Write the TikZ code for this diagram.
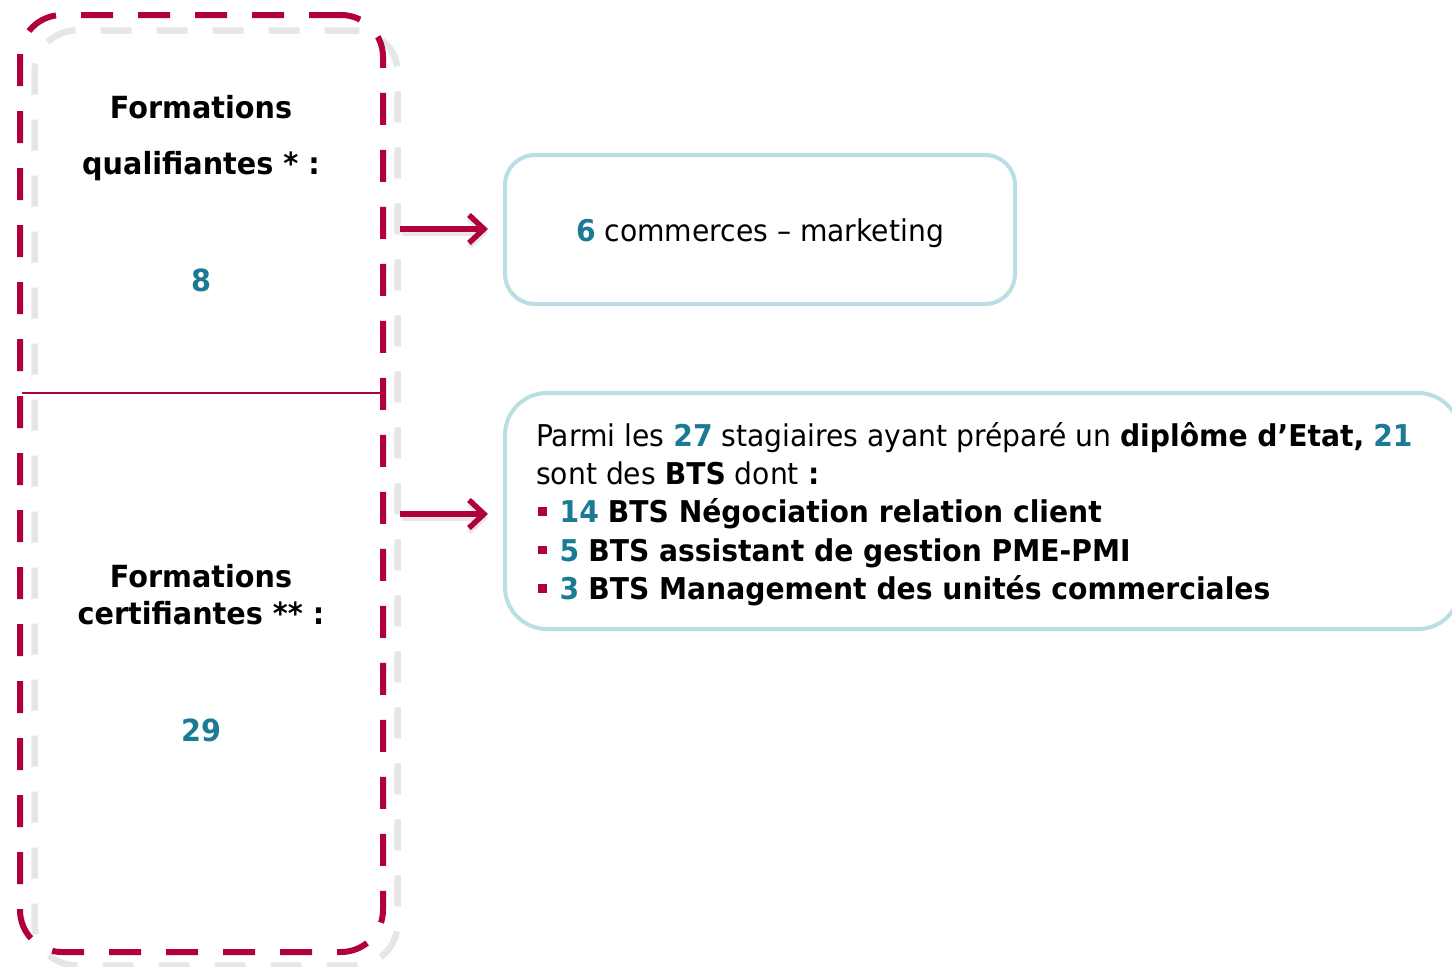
\documentclass[tikz,border=0pt]{standalone}
\usepackage{fontspec}
\setmainfont{DejaVu Sans}[FakeStretch=0.94]
\usetikzlibrary{arrows.meta}
\definecolor{crim}{HTML}{B0003E}
\definecolor{teal2}{HTML}{1B7B95}
\definecolor{lteal}{HTML}{B9DFE4}
\definecolor{shad}{HTML}{E6E6E6}
\tikzset{
  redbox/.style={draw=crim, line width=6pt, dash pattern=on 32pt off 25pt, rounded corners=42pt, minimum width=363pt, minimum height=937pt, inner sep=0pt},
  graybox/.style={draw=shad, line width=6.5pt, dash pattern=on 31pt off 25pt, rounded corners=42pt, minimum width=363pt, minimum height=935pt, inner sep=0pt},
  tealbox/.style={draw=lteal, line width=4pt, inner sep=0pt},
  lbl/.style={font=\bfseries\fontsize{30.5}{36}\selectfont, inner sep=0pt, anchor=base},
  num/.style={font=\bfseries\fontsize{30.5}{36}\selectfont, text=teal2, inner sep=0pt, anchor=base},
  rtxt/.style={font=\fontsize{30}{36}\selectfont, inner sep=0pt, anchor=base west},
  arr/.style={draw=crim, line width=5.5pt, -{Straight Barb[length=15pt, width=28pt, line width=5.5pt]}},
  arrsh/.style={draw=black!20, line width=5.5pt, opacity=0.45, -{Straight Barb[length=15pt, width=28pt, line width=5.5pt]}},
}
\newcommand{\tn}[1]{\textcolor{teal2}{\textbf{#1}}}
\newcommand{\rbul}{\textcolor{crim}{\rule[7pt]{8.5pt}{8.5pt}}\hspace{13pt}}
\begin{document}
\begin{tikzpicture}[x=1pt,y=-1pt]
\useasboundingbox (0,0) rectangle (1452,967);
% left boxes
\node[graybox] (shadowbox) at (216,498) {};
\node[redbox] (leftbox) at (201.5,483.5) {};
\coordinate (hl) at (22,393);
\coordinate (hr) at (381,393);
\draw[crim, line width=2.5pt] (hl) -- (hr);
% left labels
\node[lbl] (f1) at (201,118) {Formations};
\node[lbl] (q1) at (201,174) {qualifiantes * :};
\node[num] (n8) at (201,291) {8};
\node[lbl] (f2) at (201,587) {Formations};
\node[lbl] (c2) at (201,624) {certifiantes ** :};
\node[num] (n29) at (201,741) {29};
% right boxes
\node[tealbox, rounded corners=30pt, minimum width=510pt, minimum height=149pt] (box1) at (760,229.5) {};
\node[font=\fontsize{30}{36}\selectfont, inner sep=0pt, anchor=base] (t1) at (760,241) {\tn{6} commerces – marketing};
\node[tealbox, rounded corners=42pt, minimum width=955pt, minimum height=236pt] (box2) at (982.5,511) {};
\node[rtxt] (l1) at (536,446) {Parmi les \tn{27} stagiaires ayant préparé un \textbf{diplôme d’Etat,} \tn{21}};
\node[rtxt] (l2) at (536,484.5) {sont des \textbf{BTS} dont \textbf{:}};
\node[rtxt] (l3) at (538,522.5) {\rbul\tn{14} \textbf{BTS Négociation relation client}};
\node[rtxt] (l4) at (538,561) {\rbul\tn{5} \textbf{BTS assistant de gestion PME-PMI}};
\node[rtxt] (l5) at (538,599.5) {\rbul\tn{3} \textbf{BTS Management des unités commerciales}};
% arrows
\coordinate (a1) at (400,229);
\coordinate (a2) at (400,514);
\coordinate (a1s) at (402,233);
\coordinate (a2s) at (402,518);
\draw[arrsh, shorten >=15pt] (a1s) -- (a1s -| box1.west);
\draw[arrsh, shorten >=15pt] (a2s) -- (a2s -| box2.west);
\draw[arr, shorten >=15pt] (a1) -- (a1 -| box1.west);
\draw[arr, shorten >=15pt] (a2) -- (a2 -| box2.west);
\end{tikzpicture}
\end{document}
